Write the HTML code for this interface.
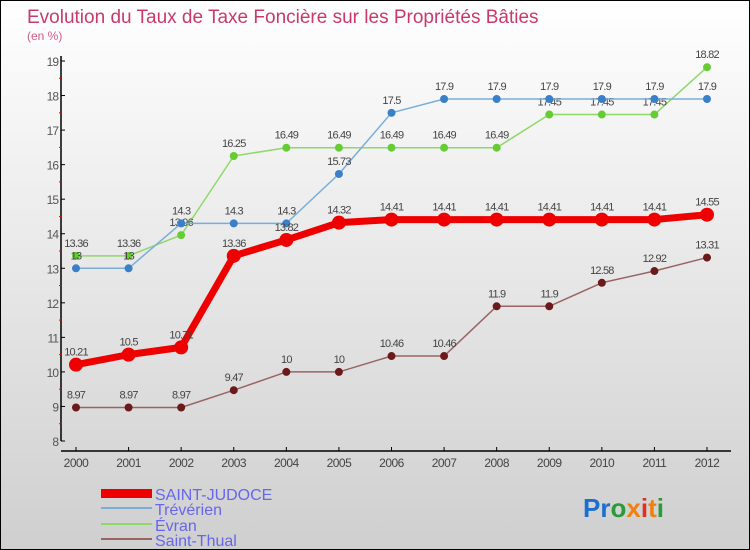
<!DOCTYPE html>
<html><head><meta charset="utf-8"><style>
body{margin:0}
#c{position:relative;width:748px;height:548px;border:1px solid #000;background:linear-gradient(#fff,#cfcfcf);font-family:"Liberation Sans",sans-serif;overflow:hidden}
</style></head><body>
<div id="c">
<svg id="s" width="748" height="548" style="position:absolute;left:0;top:0">
<text x="26" y="22" font-size="19" fill="#c8396d">Evolution du Taux de Taxe Foncière sur les Propriétés Bâties</text>
<text x="26" y="39" font-size="12" fill="#d05a88">(en %)</text>
<g id="axes"></g><g id="series"></g>
<g>
<rect x="100" y="488" width="51" height="9" fill="#e00"/>
<text x="154" y="499" font-size="16" fill="#6666ee">SAINT-JUDOCE</text>
<line x1="100" y1="507" x2="151" y2="507" stroke="#7aaed8" stroke-width="2"/>
<text x="154" y="514" font-size="16" fill="#6666ee">Trévérien</text>
<line x1="100" y1="523" x2="151" y2="523" stroke="#8fd86a" stroke-width="2"/>
<text x="154" y="530" font-size="16" fill="#6666ee">Évran</text>
<line x1="100" y1="538" x2="151" y2="538" stroke="#9b6464" stroke-width="2"/>
<text x="154" y="545" font-size="16" fill="#6666ee">Saint-Thual</text>
</g>
<text x="582" y="516" font-size="26" font-weight="bold"><tspan fill="#1a6fd0">Pr</tspan><tspan fill="#2a9a3a">o</tspan><tspan fill="#f08010">x</tspan><tspan fill="#e03020">i</tspan><tspan fill="#f08010">t</tspan><tspan fill="#2a9a3a">i</tspan></text>
</svg>
</div>
<script>
const years=[2000,2001,2002,2003,2004,2005,2006,2007,2008,2009,2010,2011,2012];
const yTicks=[8,9,10,11,12,13,14,15,16,17,18,19];
const saintJudoce=[10.21,10.5,10.71,13.36,13.82,14.32,14.41,14.41,14.41,14.41,14.41,14.41,14.55];
const treverien=[13,13,14.3,14.3,14.3,15.73,17.5,17.9,17.9,17.9,17.9,17.9,17.9];
const evran=[13.36,13.36,13.96,16.25,16.49,16.49,16.49,16.49,16.49,17.45,17.45,17.45,18.82];
const saintThual=[8.97,8.97,8.97,9.47,10,10,10.46,10.46,11.9,11.9,12.58,12.92,13.31];
const NS="http://www.w3.org/2000/svg";
const X=i=>75+i*(631/12);
const Y=v=>440-(v-8)*(380/11);
function mk(t,a,p){const e=document.createElementNS(NS,t);for(const k in a)e.setAttribute(k,a[k]);p.appendChild(e);return e;}
const ax=document.getElementById('axes');
let yl=mk('line',{x1:60,y1:55,x2:60,y2:440,stroke:'#000','stroke-width':1.5},ax);


let xl=mk('line',{x1:60,y1:450,x2:730,y2:450,stroke:'#000','stroke-width':1.5},ax);


yTicks.forEach(v=>{
 mk('line',{x1:60,y1:Y(v),x2:64,y2:Y(v),stroke:'#000'},ax);
 if(v<19) mk('line',{x1:58,y1:Y(v+0.5),x2:61,y2:Y(v+0.5),stroke:'#e00'},ax);
 const t=mk('text',{x:57,y:Y(v)+5,'font-size':12,fill:'#555','text-anchor':'end','letter-spacing':'-1'},ax);
 t.textContent=v;
 
 
});
years.forEach((y,i)=>{
 mk('line',{x1:X(i),y1:446,x2:X(i),y2:450,stroke:'#000'},ax);
 const t=mk('text',{x:X(i),y:466,'font-size':12,fill:'#444','text-anchor':'middle','letter-spacing':'-0.5'},ax);
 t.textContent=y;
 
 
});
const sg=document.getElementById('series');
function draw(data,name,color,w,r,dot){
 const g=mk('g',{},sg);
 
 
 const pl=mk('polyline',{points:data.map((v,i)=>X(i)+','+Y(v)).join(' '),fill:'none',stroke:color,'stroke-width':w,'stroke-linejoin':'round'},g);
 
 
 data.forEach((v,i)=>{
  const c=mk('circle',{cx:X(i),cy:Y(v),r:r,fill:dot},g);
  
  
  const t=mk('text',{x:X(i),y:Y(v)-9,'font-size':11,fill:'#444','text-anchor':'middle','letter-spacing':'-0.8'},g);
  t.textContent=v;
  
  
 });
}
draw(saintThual,'saint-thual','#9b6464',1.5,4,'#6a1a1a');
draw(evran,'evran','#8fd86a',1.5,4,'#66cc33');
draw(treverien,'treverien','#7aaed8',1.5,4,'#3a80c8');
draw(saintJudoce,'saint-judoce','#ee0000',7,7,'#ee0000');
</script>
</body></html>
